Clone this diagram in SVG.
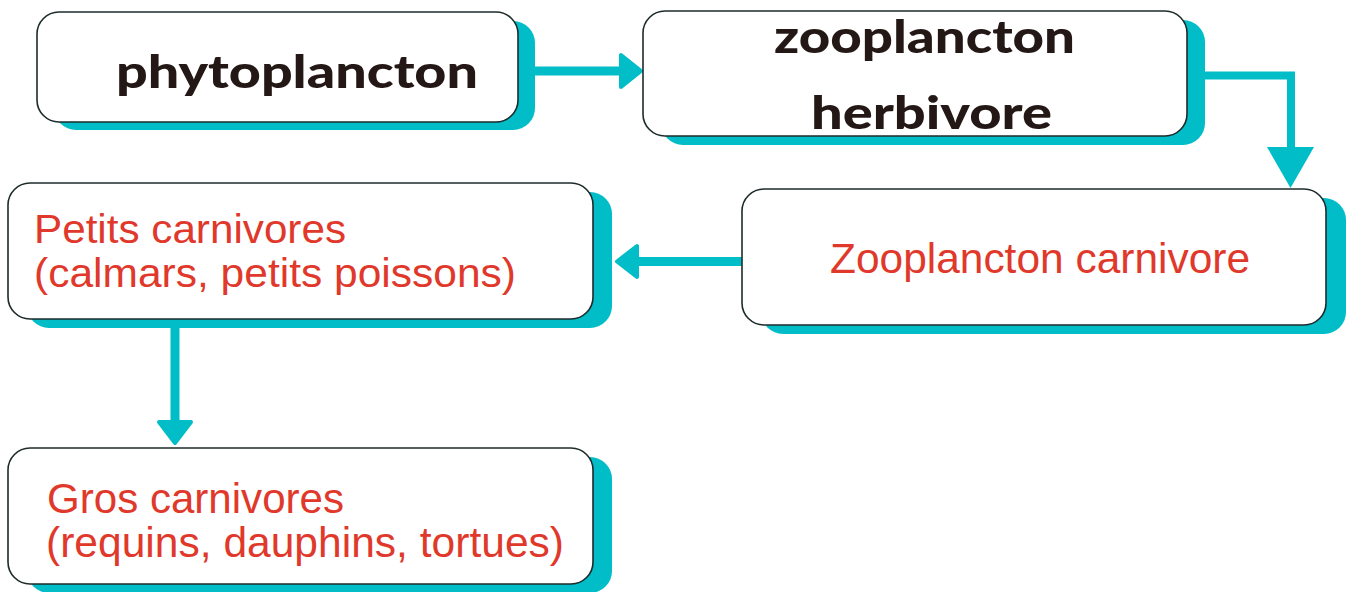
<svg xmlns="http://www.w3.org/2000/svg" width="1352" height="592" viewBox="0 0 1352 592">
<style>
.shadow{fill:#00BDC8;}
.box{fill:#FFFFFF;stroke:#1E2B2B;stroke-width:1.6;}
.hand{font-family:"Lato","DejaVu Sans",sans-serif;font-weight:900;font-size:46px;fill:#231815;}
.lbl{font-family:"Liberation Sans",Arial,sans-serif;font-size:42px;fill:#E0392B;}
.sm{font-size:40px;}
.line{fill:none;stroke:#00BDC8;stroke-width:9;}
.head{fill:#00BDC8;stroke:#00BDC8;stroke-width:4;stroke-linejoin:round;}
.headsharp{fill:#00BDC8;}
</style>
<rect width="1352" height="592" fill="#FFFFFF"/>
<g id="connectors">
  <line class="line" x1="530" y1="71" x2="626" y2="71"/>
  <polygon class="head" points="641,71 621,55 621,87"/>
  <polyline class="line" style="stroke-width:8;stroke-linejoin:miter" points="1203,75.5 1291,75.5 1291,152"/>
  <polygon class="headsharp" points="1267,147 1314,147 1290.5,188"/>
  <line class="line" x1="745" y1="261.5" x2="630" y2="261.5"/>
  <polygon class="head" points="617,261.5 637,246 637,277"/>
  <line class="line" x1="175" y1="325" x2="175" y2="428"/>
  <polygon class="head" points="159,422 191,422 175,443"/>
</g>
<g id="node-phytoplancton">
  <rect class="shadow" x="54" y="21" width="481" height="109" rx="22"/>
  <rect class="box" x="37" y="12" width="481" height="110" rx="22"/>
  <text class="hand" x="116" y="88" textLength="362" lengthAdjust="spacingAndGlyphs">phytoplancton</text>
</g>
<g id="node-zooplancton-herbivore">
  <rect class="shadow" x="661" y="20" width="544" height="125" rx="22"/>
  <rect class="box" x="643" y="11" width="544" height="125" rx="22"/>
  <text class="hand" x="774" y="53" textLength="301" lengthAdjust="spacingAndGlyphs">zooplancton</text>
  <text class="hand" x="811" y="129" textLength="241" lengthAdjust="spacingAndGlyphs">herbivore</text>
</g>
<g id="node-zooplancton-carnivore">
  <rect class="shadow" x="761" y="198" width="585" height="136" rx="22"/>
  <rect class="box" x="742" y="189" width="584" height="136" rx="22"/>
  <text class="lbl" x="830" y="273" textLength="420" lengthAdjust="spacingAndGlyphs">Zooplancton carnivore</text>
</g>
<g id="node-petits-carnivores">
  <rect class="shadow" x="27" y="192" width="585" height="136" rx="22"/>
  <rect class="box" x="8" y="183" width="585" height="136" rx="22"/>
  <text class="lbl sm" x="34" y="243" textLength="312" lengthAdjust="spacingAndGlyphs">Petits carnivores</text>
  <text class="lbl sm" x="34" y="287" textLength="482" lengthAdjust="spacingAndGlyphs">(calmars, petits poissons)</text>
</g>
<g id="node-gros-carnivores">
  <rect class="shadow" x="27" y="457" width="585" height="136" rx="22"/>
  <rect class="box" x="8" y="448" width="585" height="136" rx="22"/>
  <text class="lbl" x="47" y="513" textLength="297" lengthAdjust="spacingAndGlyphs">Gros carnivores</text>
  <text class="lbl" x="46" y="557" textLength="518" lengthAdjust="spacingAndGlyphs">(requins, dauphins, tortues)</text>
</g>
</svg>
